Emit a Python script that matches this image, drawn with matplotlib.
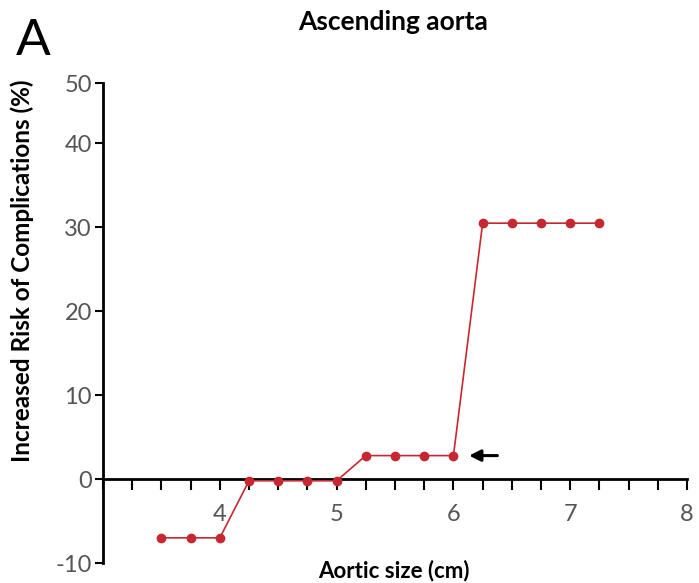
import matplotlib
matplotlib.use("Agg")
import matplotlib.pyplot as plt
from matplotlib.ticker import MultipleLocator

# values
aortic_size = [3.5, 3.75, 4.0, 4.25, 4.5, 4.75, 5.0, 5.25, 5.5, 5.75, 6.0,
               6.25, 6.5, 6.75, 7.0, 7.25]
risk = [-7.0, -7.0, -7.0, -0.2, -0.2, -0.2, -0.2, 2.8, 2.8, 2.8, 2.8,
        30.5, 30.5, 30.5, 30.5, 30.5]
x_ticks = [4, 5, 6, 7, 8]
y_ticks = [-10, 0, 10, 20, 30, 40, 47.2]   # top tick is drawn compressed in the source
y_labels = ["-10", "0", "10", "20", "30", "40", "50"]

plt.rcParams['font.family'] = ['Lato', 'DejaVu Sans']
red = "#c62832"
gray = "#555555"

fig = plt.figure(figsize=(6.99, 5.83), dpi=100)
ax = fig.add_axes([0.1474, 0.0343, 0.8355, 0.8233])

ax.plot(aortic_size, risk, color=red, lw=1.2, marker="o", ms=6,
        zorder=5, clip_on=False)

# arrow pointing at the 6 cm point
ax.annotate("", xy=(6.11, 2.8), xytext=(6.4, 2.8),
            arrowprops=dict(arrowstyle="-|>", color="black", lw=2.2,
                            mutation_scale=17))

ax.set_xlim(3, 8)
ax.set_ylim(-10, 47.2)

ax.spines['top'].set_visible(False)
ax.spines['right'].set_visible(False)
ax.spines['bottom'].set_position(('data', 0))
ax.spines['left'].set_linewidth(2.0)
ax.spines['bottom'].set_linewidth(2.0)

ax.set_xticks(x_ticks)
ax.xaxis.set_minor_locator(MultipleLocator(0.25))
ax.tick_params(axis='x', which='both', direction='out', length=8, width=1.5,
               pad=10, labelsize=17, labelcolor=gray)
ax.set_yticks(y_ticks)
ax.set_yticklabels(y_labels)
ax.tick_params(axis='y', direction='out', length=6, width=1.5, pad=2,
               labelsize=17, labelcolor=gray)

fig.text(0.032, 0.535, "Increased Risk of Complications (%)", rotation=90,
         ha='center', va='center', fontsize=17.5, fontweight='bold')
fig.text(0.564, 0.022, "Aortic size (cm)", ha='center', va='center',
         fontsize=16, fontweight='bold')
fig.text(0.562, 0.962, "Ascending aorta", ha='center', va='center',
         fontsize=19, fontweight='bold')
fig.text(0.022, 0.93, "A", ha='left', va='center', fontsize=37)

fig.savefig("out.png", dpi=100)
